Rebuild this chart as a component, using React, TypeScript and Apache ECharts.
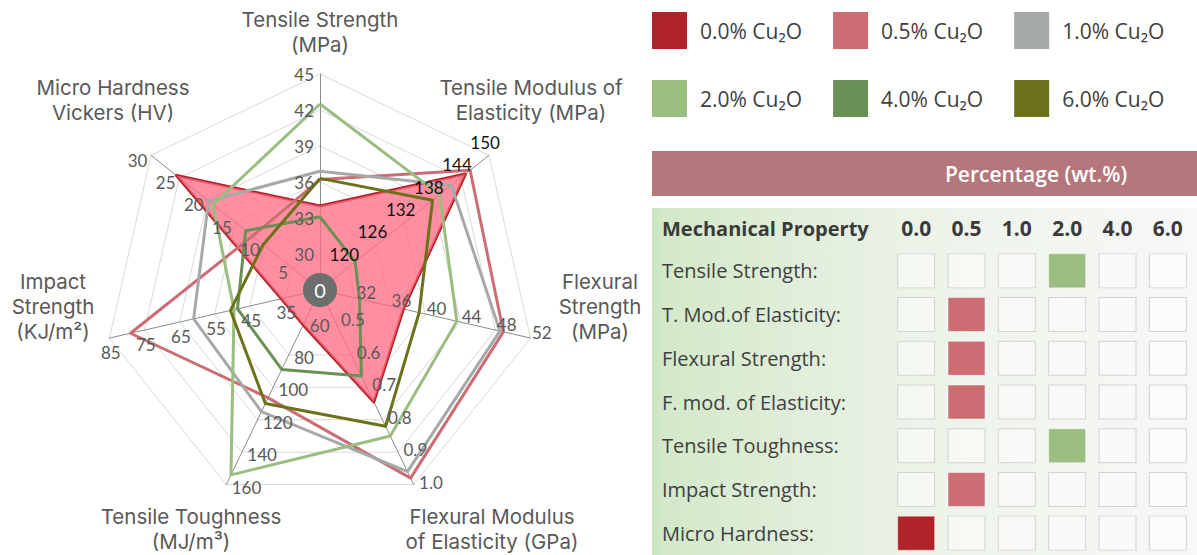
import React, { useEffect, useRef } from 'react';
import * as echarts from 'echarts';

// ---------- data ----------
const seriesNames = ['0.0% Cu₂O', '0.5% Cu₂O', '1.0% Cu₂O', '2.0% Cu₂O', '4.0% Cu₂O', '6.0% Cu₂O'];
const seriesColors = ['#B22229', '#CC6C73', '#A5AAA9', '#9ABD80', '#6A9155', '#6B7219'];

// properties in clockwise order starting at the top
const axisTitles = [
  'Tensile Strength\n(MPa)',
  'Tensile Modulus of\nElasticity (MPa)',
  'Flexural\nStrength\n(MPa)',
  'Flexural Modulus\nof Elasticity (GPa)',
  'Tensile Toughness\n(MJ/m³)',
  'Impact\nStrength\n(KJ/m²)',
  'Micro Hardness\nVickers (HV)',
];
const axisMin = [27, 114, 28, 0.4, 40, 25, 0];
const axisMax = [45, 150, 52, 1.0, 160, 85, 30];

const cu00 = [34, 145, 37.5, 0.745, 61.5, 36, 25.5];
const cu05 = [36.2, 146, 48.9, 0.98, 106.5, 79, 12];
const cu10 = [36.9, 142, 48.5, 0.96, 115, 61, 19.8];
const cu20 = [42.5, 139.5, 43.6, 0.85, 154, 49.5, 19];
const cu40 = [33.1, 121.5, 32.5, 0.665, 89, 48.5, 13.2];
const cu60 = [36.3, 138, 39.3, 0.82, 110, 50.5, 10.1];
const allSeries = [cu00, cu05, cu10, cu20, cu40, cu60];

// table
const tableRows = [
  'Tensile Strength:',
  'T. Mod.of Elasticity:',
  'Flexural Strength:',
  'F. mod. of Elasticity:',
  'Tensile Toughness:',
  'Impact Strength:',
  'Micro Hardness:',
];
const tableCols = ['0.0', '0.5', '1.0', '2.0', '4.0', '6.0'];
const bestColumn = [3, 1, 1, 1, 3, 1, 0];

// ---------- layout ----------
const CX = 320;
const CY = 290;
const R = 216;
// ECharts places indicators counter-clockwise; reorder the clockwise list
const ecOrder = [0, 6, 5, 4, 3, 2, 1];
const titlePos: [number, number][] = [
  [320, 32],
  [531, 100],
  [600, 306],
  [492, 529],
  [191, 529],
  [53, 306],
  [113, 100],
];
// per-axis tick-label placement tweaks (clockwise order)
const labelTweak: any[] = [
  { padding: [0, 0, 12, 0] },
  { align: 'center', verticalAlign: 'bottom' },
  {},
  {},
  { padding: [10, 0, 0, 0] },
  { align: 'center', verticalAlign: 'top' },
  {},
];

const radarFont = 'Lato';
const titleFont = 'Inter';
const tableFont = 'Open Sans';

export default function App() {
  const ref = useRef<HTMLDivElement>(null);

  useEffect(() => {
    if (!ref.current) return;
    const chart = echarts.init(ref.current, undefined, { renderer: 'svg' });

    const makeIndicator = (withLabels: boolean) =>
      ecOrder.map((i) => ({
        name: axisTitles[i].replace(/\n/g, ' '),
        min: axisMin[i],
        max: axisMax[i],
        axisLabel: withLabels
          ? {
              ...labelTweak[i],
              color: i === 1 ? '#111111' : '#595959',
              formatter: (v: number) => {
                if (Math.abs(v - axisMin[i]) < 1e-9) return '';
                if (axisMax[i] <= 1) return v.toFixed(1);
                return String(Math.round(v * 100) / 100);
              },
            }
          : { show: false },
      }));

    const radarBase = {
      center: [CX, CY],
      radius: R,
      startAngle: 90,
      splitNumber: 6,
      shape: 'polygon',
      axisName: { show: false },
      splitArea: { show: false },
      axisTick: { show: false },
    };

    const radarData = allSeries.map((vals, s) => {
      const item: any = {
        name: seriesNames[s],
        value: ecOrder.map((i) => vals[i]),
        lineStyle: { color: seriesColors[s], width: 3 },
        itemStyle: { color: seriesColors[s] },
      };
      if (s === 0) item.areaStyle = { color: '#FF6A80', opacity: 0.75 };
      return item;
    });

    const cellData: any[] = [];
    tableRows.forEach((_, r) => {
      tableCols.forEach((__, c) => {
        const best = bestColumn[r] === c;
        cellData.push({
          value: [c, r],
          itemStyle: best
            ? { color: seriesColors[c], opacity: 1, borderColor: 'rgba(255,255,255,0.5)', borderWidth: 1 }
            : { color: 'rgba(255,255,255,0.45)', opacity: 1, borderColor: '#D4D4D4', borderWidth: 1 },
        });
      });
    });

    const titleTexts = axisTitles.map((t, i) => ({
      type: 'text',
      x: titlePos[i][0],
      y: titlePos[i][1],
      z: 50,
      silent: true,
      style: {
        text: t,
        fill: '#595959',
        fontSize: 20.5,
        fontFamily: titleFont,
        lineHeight: 25,
        align: 'center',
        verticalAlign: 'middle',
      },
    }));

    chart.setOption({
      animation: false,
      backgroundColor: '#ffffff',
      legend: {
        data: seriesNames.map((n, i) => ({
          name: n,
          icon: 'rect',
          itemStyle: { color: seriesColors[i], borderWidth: 0 },
        })),
        left: 652,
        top: 12,
        width: 545,
        padding: 0,
        itemWidth: 35,
        itemHeight: 37,
        itemGap: 31,
        selectedMode: false,
        textStyle: {
          fontSize: 21,
          color: '#404040',
          fontFamily: tableFont,
          width: 110,
          padding: [0, 0, 0, 8],
        },
      },
      radar: [
        {
          ...radarBase,
          z: 0,
          axisLine: { lineStyle: { color: '#8C8C8C', width: 1 } },
          splitLine: { lineStyle: { color: '#D9D9D9', width: 1 } },
          axisLabel: { show: false },
          indicator: makeIndicator(false),
        },
        {
          ...radarBase,
          z: 5,
          axisLine: { show: false },
          splitLine: { show: false },
          axisLabel: {
            show: true,
            fontSize: 17,
            color: '#595959',
            fontFamily: radarFont,
            margin: 6,
          },
          indicator: makeIndicator(true),
        },
      ],
      grid: {
        left: 891,
        top: 249,
        width: 302,
        height: 310,
      },
      xAxis: {
        type: 'category',
        position: 'top',
        data: tableCols,
        axisLine: { show: false },
        axisTick: { show: false },
        splitLine: { show: false },
        axisLabel: {
          fontSize: 21,
          fontWeight: 'bold',
          color: '#3A3A3A',
          fontFamily: tableFont,
          verticalAlign: 'middle',
          margin: 21,
        },
      },
      yAxis: {
        type: 'category',
        inverse: true,
        data: tableRows,
        axisLine: { show: false },
        axisTick: { show: false },
        splitLine: { show: false },
        axisLabel: {
          fontSize: 20,
          color: '#404040',
          fontFamily: tableFont,
          align: 'left',
          margin: 229,
        },
      },
      series: [
        {
          type: 'radar',
          radarIndex: 0,
          symbol: 'none',
          silent: true,
          data: radarData,
        },
        {
          type: 'scatter',
          symbol: 'rect',
          symbolSize: [37, 34],
          silent: true,
          data: cellData,
        },
      ],
      graphic: [
        {
          type: 'rect',
          z: -10,
          silent: true,
          shape: { x: 652, y: 151, width: 545, height: 45 },
          style: { fill: '#B5777B' },
        },
        {
          type: 'text',
          z: 10,
          silent: true,
          x: 1036,
          y: 174,
          style: {
            text: 'Percentage (wt.%)',
            fill: '#ffffff',
            fontSize: 21,
            fontWeight: 600,
            fontFamily: tableFont,
            align: 'center',
            verticalAlign: 'middle',
          },
        },
        {
          type: 'rect',
          z: -10,
          silent: true,
          shape: { x: 652, y: 208, width: 545, height: 347 },
          style: {
            fill: {
              type: 'linear',
              x: 0,
              y: 0,
              x2: 1,
              y2: 0,
              colorStops: [
                { offset: 0, color: '#C9E4BD' },
                { offset: 0.02, color: '#D3E9C9' },
                { offset: 0.5, color: '#EDF3E9' },
                { offset: 1, color: '#F8F8F8' },
              ],
            },
          },
        },
        {
          type: 'text',
          z: 10,
          silent: true,
          x: 662,
          y: 228,
          style: {
            text: 'Mechanical Property',
            fill: '#3A3A3A',
            fontSize: 20,
            fontWeight: 'bold',
            fontFamily: tableFont,
            align: 'left',
            verticalAlign: 'middle',
          },
        },
        {
          type: 'circle',
          z: 100,
          silent: true,
          shape: { cx: CX, cy: CY, r: 17 },
          style: { fill: '#6B706F' },
        },
        {
          type: 'text',
          z: 101,
          silent: true,
          x: CX,
          y: CY,
          style: {
            text: '0',
            fill: '#ffffff',
            fontSize: 20,
            fontFamily: radarFont,
            align: 'center',
            verticalAlign: 'middle',
          },
        },
        ...titleTexts,
      ],
    });

    return () => {
      chart.dispose();
    };
  }, []);

  return (
    <div
      ref={ref}
      style={{ position: 'absolute', left: 0, top: 0, width: 1197, height: 555 }}
    />
  );
}
